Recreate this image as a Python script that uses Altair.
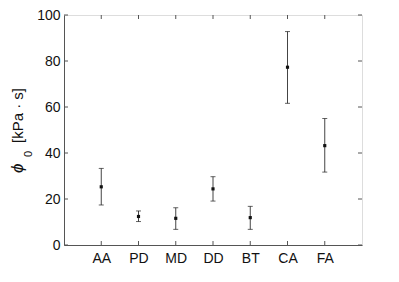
import altair as alt
import pandas as pd

categories = ["AA", "PD", "MD", "DD", "BT", "CA", "FA"]
means = [25.3, 12.4, 11.6, 24.4, 11.9, 77.3, 43.2]
uppers = [33.3, 14.8, 16.2, 29.7, 16.8, 92.8, 55.0]
lowers = [17.4, 10.2, 6.8, 19.1, 6.8, 61.6, 31.7]
y_ticks = [0, 20, 40, 60, 80, 100]

W, H = 298, 230
df = pd.DataFrame({"cat": categories, "mean": means, "hi": uppers, "lo": lowers})
ydf = pd.DataFrame({"v": y_ticks})
cdf = pd.DataFrame({"cat": categories})

FONT = "Liberation Sans"
AX = "#555555"
TXT = "#111111"
xs = alt.X("cat:N", sort=categories)
x = alt.X("cat:N", sort=categories, scale=alt.Scale(type="point", padding=1),
          axis=alt.Axis(title=None, tickSize=0, labelPadding=6, labelAngle=0,
                        labelFontSize=14, labelColor=TXT, labelFont=FONT,
                        domainColor=AX))
y = alt.Y("mean:Q", scale=alt.Scale(domain=[0, 100], nice=False),
          axis=alt.Axis(values=y_ticks, title=None, tickSize=0, labelPadding=4,
                        labelFontSize=14, labelColor=TXT, labelFont=FONT,
                        domainColor=AX, grid=False))

base = alt.Chart(df)
bars = base.mark_rule(color="#444444", strokeWidth=1).encode(x=x, y=alt.Y("lo:Q"), y2="hi:Q")
cap_hi = base.mark_tick(color="#222222", size=5, thickness=1).encode(x=xs, y="hi:Q")
cap_lo = base.mark_tick(color="#222222", size=5, thickness=1).encode(x=xs, y="lo:Q")
pts = base.mark_square(color="#111111", size=10, opacity=1).encode(x=xs, y=y)

yt = alt.Chart(ydf)
yl = yt.mark_rule(color=AX).encode(y=alt.Y("v:Q"), x=alt.value(0), x2=alt.value(4))
yr = yt.mark_rule(color=AX).encode(y=alt.Y("v:Q"), x=alt.value(W - 4), x2=alt.value(W))
ct = alt.Chart(cdf)
xb = ct.mark_rule(color=AX).encode(x=xs, y=alt.value(H - 4), y2=alt.value(H))
xt = ct.mark_rule(color=AX).encode(x=xs, y=alt.value(0), y2=alt.value(4))

# y-axis title pieces: italic phi, subscript 0, unit
tb = alt.Chart(pd.DataFrame({"k": [0]}))
t_phi = tb.mark_text(angle=270, align="left", baseline="alphabetic", font=FONT, fontSize=17,
                     fontStyle="italic", color=TXT).encode(
    x=alt.value(-41), y=alt.value(158), text=alt.value("ϕ"))
t_sub = tb.mark_text(angle=270, align="left", baseline="alphabetic", font=FONT, fontSize=11,
                     color=TXT).encode(
    x=alt.value(-32), y=alt.value(142), text=alt.value("0"))
t_unit = tb.mark_text(angle=270, align="left", baseline="alphabetic", font=FONT, fontSize=15,
                      color=TXT).encode(
    x=alt.value(-41), y=alt.value(128), text=alt.value("[kPa · s]"))

chart = alt.layer(bars, cap_hi, cap_lo, pts, yl, yr, xb, xt, t_phi, t_sub, t_unit).properties(
    width=W, height=H,
    autosize=alt.AutoSizeParams(type="none"),
    padding={"left": 56, "top": 7, "right": 20, "bottom": 28},
).configure_view(stroke=AX, strokeWidth=1).configure(background="white")

chart.save("out.html", embed_options={"renderer": "svg", "actions": False})
